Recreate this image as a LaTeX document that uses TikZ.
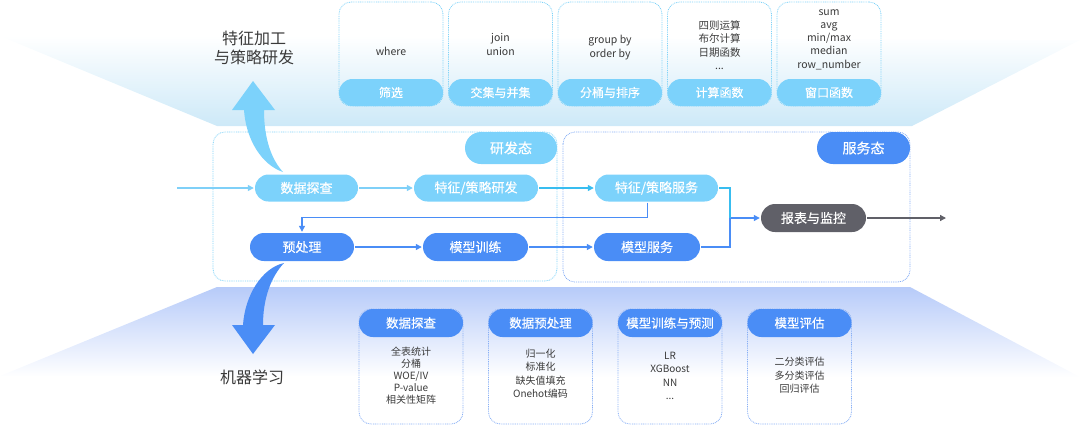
\documentclass[tikz,border=0pt]{standalone}
\usepackage{fontspec}
\setmainfont{Noto Sans CJK SC}
\newfontfamily\pillfont[FakeBold=0.4]{Noto Sans CJK SC}
\usetikzlibrary{arrows.meta,shapes.misc}
\definecolor{lightpill}{HTML}{7CD2FB}
\definecolor{darkpill}{HTML}{4A8DF6}
\definecolor{graypill}{HTML}{606068}
\definecolor{topbg}{HTML}{CDE9F8}
\definecolor{botbg}{HTML}{B7CBF9}
\definecolor{lightdot}{HTML}{7FD3F8}
\definecolor{bluedot}{HTML}{86AEF5}
\definecolor{cyanline}{HTML}{38BDF0}
\definecolor{lightline}{HTML}{7FD0F8}
\definecolor{txt}{HTML}{3A3A3A}
\tikzset{
  pillbase/.style={rounded rectangle, inner sep=0pt, text=white,
    font=\pillfont\fontsize{13}{15}\selectfont},
  lpill/.style={pillbase, fill=lightpill},
  dpill/.style={pillbase, fill=darkpill},
  gpill/.style={pillbase, fill=graypill},
  dotbox/.style={draw, line width=0.8pt, dash pattern=on 0.9pt off 0.9pt, rounded corners=12pt, inner sep=0pt},
  topcard/.style={dotbox, draw=lightdot, minimum width=104pt, minimum height=104pt},
  botcard/.style={dotbox, draw=bluedot, minimum width=104pt, minimum height=115pt},
  toppill/.style={lpill, minimum width=104pt, minimum height=27pt, font=\pillfont\fontsize{12}{14}\selectfont},
  botpill/.style={dpill, minimum width=104pt, minimum height=28pt, font=\pillfont\fontsize{12.5}{14}\selectfont},
  listtxt/.style={align=center, text=txt, inner sep=0pt, font=\fontsize{10.5}{13.3}\selectfont},
  blisttxt/.style={align=center, text=txt, inner sep=0pt, font=\fontsize{10}{13.5}\selectfont},
  conn/.style={line width=1.3pt, shorten <=1pt},
  tip/.style={-{Triangle[length=6pt,width=6pt]}, shorten >=1pt},
  title/.style={align=center, text=txt, font=\fontsize{16}{19}\selectfont}
}
\begin{document}
\begin{tikzpicture}[x=1pt,y=-1pt]
\useasboundingbox (0,0) rectangle (1080,426);
% background bands
\shade[top color=white, bottom color=topbg] (0,36) -- (1080,40) -- (912,126) -- (217,126) -- cycle;
\shade[top color=botbg, bottom color=white] (217,287) -- (910,287) -- (1080,377) -- (0,376) -- cycle;

% titles
\node[title] (t1) at (254,47.5) {特征加工\\与策略研发};
\node[title] (t2) at (252,377) {机器学习};

% top cards
\node[topcard] (c1) at (391,54) {};
\node[topcard] (c2) at (500.5,54) {};
\node[topcard] (c3) at (610,54) {};
\node[topcard] (c4) at (719.5,54) {};
\node[topcard] (c5) at (829,54) {};
\node[toppill] (p1) at (391,92.5) {筛选};
\node[toppill] (p2) at (500.5,92.5) {交集与并集};
\node[toppill] (p3) at (610,92.5) {分桶与排序};
\node[toppill] (p4) at (719.5,92.5) {计算函数};
\node[toppill] (p5) at (829,92.5) {窗口函数};
\node[listtxt] (l1) at (391,51) {where};
\node[listtxt] (l2) at (500.5,44.5) {join\\union};
\node[listtxt] (l3) at (610,47.5) {group by\\order by};
\node[listtxt] (l4) at (719.5,45) {四则运算\\布尔计算\\日期函数\\...};
\node[listtxt] (l5) at (829,39.5) {sum\\avg\\min/max\\median\\row\_number};

% containers
\draw[dotbox, draw=lightdot] (213,132) rectangle (557,281);
\draw[dotbox, draw=bluedot] (563,132) rectangle (910,282);
\node[lpill, minimum width=92pt, minimum height=32pt, font=\pillfont\fontsize{14}{16}\selectfont] (devl) at (511,148) {研发态};
\node[dpill, minimum width=93pt, minimum height=32pt, font=\pillfont\fontsize{14}{16}\selectfont] (svcl) at (863.5,148) {服务态};

% big curved arrows
\fill[lightpill] (283,172) .. controls (262,165) and (246,140) .. (244,110) -- (232,110) -- (253,81) -- (275,110) -- (264,110) .. controls (264,140) and (272,160) .. (283,172) -- cycle;
\fill[darkpill] (284,263) .. controls (262,268) and (245,295) .. (243,325) -- (232,325) -- (253,354) -- (275,325) -- (263,325) .. controls (263,300) and (270,278) .. (284,263) -- cycle;

% flow nodes
\node[lpill, minimum width=103pt, minimum height=27pt] (explore) at (306.5,188) {数据探查};
\node[lpill, minimum width=124pt, minimum height=27pt] (fdev) at (476,188) {特征/策略研发};
\node[dpill, minimum width=104pt, minimum height=28pt] (pre) at (302,247) {预处理};
\node[dpill, minimum width=105pt, minimum height=28pt] (train) at (475.5,247) {模型训练};
\node[lpill, minimum width=123pt, minimum height=27pt] (fsvc) at (656.5,188) {特征/策略服务};
\node[dpill, minimum width=106pt, minimum height=28pt] (msvc) at (647,247) {模型服务};
\node[gpill, minimum width=105pt, minimum height=28pt] (rep) at (813.5,218) {报表与监控};

% connectors
\coordinate (in) at (176,188);
\coordinate (join) at (730,218);
\coordinate (out) at (947,218);
\draw[conn, tip, draw=lightline] (in) -- (explore.west);
\draw[conn, tip, draw=lightline] (explore.east) -- (fdev.west);
\draw[conn, tip, draw=cyanline] (fdev.east) -- (fsvc.west);
\draw[conn, tip, draw=darkpill] (pre.east) -- (train.west);
\draw[conn, tip, draw=darkpill] (train.east) -- (msvc.west);
\draw[conn, tip, draw=darkpill] ([xshift=-9pt]fsvc.south) -- ++(0,15.5) -| (pre.north);
\draw[conn, draw=cyanline] (fsvc.east) -| (join);
\draw[conn, draw=darkpill] (msvc.east) -| (join);
\draw[conn, tip, draw=darkpill] (join) -- (rep.west);
\draw[conn, tip, draw=graypill] (rep.east) -- (out);

% bottom cards
\node[botcard] (b1) at (411,366.5) {};
\node[botcard] (b2) at (540.5,366.5) {};
\node[botcard] (b3) at (670,366.5) {};
\node[botcard] (b4) at (799.5,366.5) {};
\node[botpill] (q1) at (411,323) {数据探查};
\node[botpill] (q2) at (540.5,323) {数据预处理};
\node[botpill] (q3) at (670,323) {模型训练与预测};
\node[botpill] (q4) at (799.5,323) {模型评估};
\node[blisttxt, font=\fontsize{10}{12}\selectfont] (m1) at (411,375.5) {全表统计\\分桶\\WOE/IV\\P-value\\相关性矩阵};
\node[blisttxt] (m2) at (540.5,373.5) {归一化\\标准化\\缺失值填充\\Onehot编码};
\node[blisttxt] (m3) at (670,376) {LR\\XGBoost\\NN\\...};
\node[blisttxt] (m4) at (799.5,375.5) {二分类评估\\多分类评估\\回归评估};
\end{tikzpicture}
\end{document}
